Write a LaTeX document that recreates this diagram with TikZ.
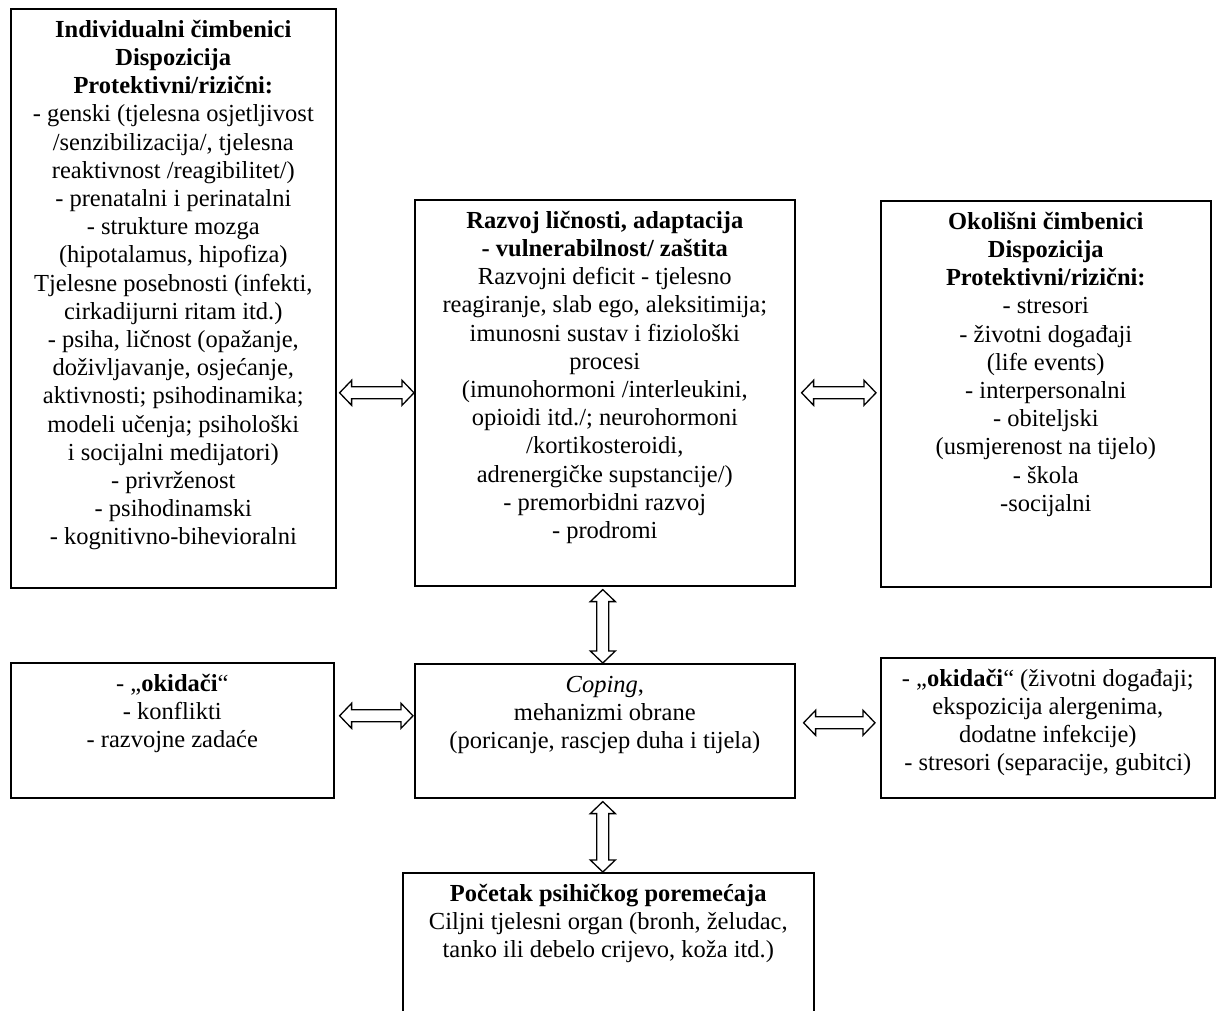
\documentclass[tikz,border=0pt]{standalone}
\usepackage{fontspec}
\setmainfont{Liberation Serif}
\usepackage{tikz}
\usetikzlibrary{positioning,calc}
\tikzset{
    box/.style = {
        draw,
        shape=rectangle,
        anchor=north west,
        inner sep=0pt,
        line width=1.6pt,
        font=\fontsize{24.5}{28.2}\selectfont
    },
    dblarrow/.style = {
        draw,
        fill=white,
        line width=1.3pt,
        line join=miter
    },
}
\newcommand{\boxtext}[3]{\parbox[c][#2][t]{#1}{\centering\rule{0pt}{28.5pt}#3}}
\newcommand{\harrow}[2]{\path[dblarrow] (#1) -- ++(12,12.5) -- ++(0,-6.5) -- ($(#2)+(-12,6)$) -- ++(0,6.5) -- (#2) -- ++(-12,-12.5) -- ++(0,6.5) -- ($(#1)+(12,-6)$) -- ++(0,-6.5) -- cycle;}
\newcommand{\varrow}[2]{\path[dblarrow] (#1) -- ++(12.5,12) -- ++(-6.5,0) -- ($(#2)+(6,-12)$) -- ++(6.5,0) -- (#2) -- ++(-12.5,-12) -- ++(6.5,0) -- ($(#1)+(-6,12)$) -- ++(-6.5,0) -- cycle;}

\begin{document}
\begin{tikzpicture}[x=1pt,y=-1pt]
                \useasboundingbox (0,0) rectangle (1217,1010);
                \clip (0,0) rectangle (1217,1010);

                \node[box] (indiv) at (10,8) {\boxtext{325pt}{579pt}{\textbf{Individualni čimbenici}\\ \textbf{Dispozicija}\\ \textbf{Protektivni/rizični:}\\ - genski (tjelesna osjetljivost\\ /senzibilizacija/, tjelesna\\ reaktivnost /reagibilitet/)\\ - prenatalni i perinatalni\\ - strukture mozga\\ (hipotalamus, hipofiza)\\ Tjelesne posebnosti (infekti,\\ cirkadijurni ritam itd.)\\ - psiha, ličnost (opažanje,\\ doživljavanje, osjećanje,\\ aktivnosti; psihodinamika;\\ modeli učenja; psihološki\\ i socijalni medijatori)\\ - privrženost\\ - psihodinamski\\ - kognitivno-bihevioralni}};
                \node[box] (razvoj) at (414,199) {\boxtext{380pt}{386pt}{\textbf{Razvoj ličnosti, adaptacija}\\ \textbf{- vulnerabilnost/ zaštita}\\ Razvojni deficit - tjelesno\\ reagiranje, slab ego, aleksitimija;\\ imunosni sustav i fiziološki\\ procesi\\ (imunohormoni /interleukini,\\ opioidi itd./; neurohormoni\\ /kortikosteroidi,\\ adrenergičke supstancije/)\\ - premorbidni razvoj\\ - prodromi}};
                \node[box] (okolis) at (880,200) {\boxtext{330pt}{386pt}{\textbf{Okolišni čimbenici}\\ \textbf{Dispozicija}\\ \textbf{Protektivni/rizični:}\\ - stresori\\ - životni događaji\\ (life events)\\ - interpersonalni\\ - obiteljski\\ (usmjerenost na tijelo)\\ - škola\\ -socijalni}};
                \node[box] (okidL) at (10,662) {\boxtext{323pt}{135pt}{- „\textbf{okidači}“\\ - konflikti\\ - razvojne zadaće}};
                \node[box] (coping) at (414,663) {\boxtext{380pt}{134pt}{\textit{Coping},\\ mehanizmi obrane\\ (poricanje, rascjep duha i tijela)}};
                \node[box] (okidR) at (880,657) {\boxtext{334pt}{140pt}{- „\textbf{okidači}“ (životni događaji;\\ ekspozicija alergenima,\\ dodatne infekcije)\\ - stresori (separacije, gubitci)}};
                \node[box] (pocetak) at (402,872) {\boxtext{411pt}{170pt}{\textbf{Početak psihičkog poremećaja}\\ Ciljni tjelesni organ (bronh, želudac,\\ tanko ili debelo crijevo, koža itd.)}};

                \coordinate (a1) at ($(indiv.east |- razvoj.west)+(3,0)$);
                \coordinate (b1) at (razvoj.west);
                \coordinate (a2) at ($(razvoj.east)+(6,0)$);
                \coordinate (b2) at ($(okolis.west |- razvoj.east)+(-4,0)$);
                \coordinate (a3) at ($(okidL.east |- coping.west)+(5,-15)$);
                \coordinate (b3) at ($(coping.west)+(-1,-15)$);
                \coordinate (a4) at ($(coping.east)+(8,-8)$);
                \coordinate (b4) at ($(okidR.west |- coping.east)+(-5,-8)$);
                \coordinate (a5) at ($(razvoj.south)+(-2,3)$);
                \coordinate (b5) at ($(coping.north)+(-2,0)$);
                \coordinate (a6) at ($(coping.south)+(-2,3)$);
                \coordinate (b6) at ($(pocetak.north -| coping.south)+(-2,0)$);

                \harrow{a1}{b1}
                \harrow{a2}{b2}
                \harrow{a3}{b3}
                \harrow{a4}{b4}
                \varrow{a5}{b5}
                \varrow{a6}{b6}
\end{tikzpicture}
\end{document}
